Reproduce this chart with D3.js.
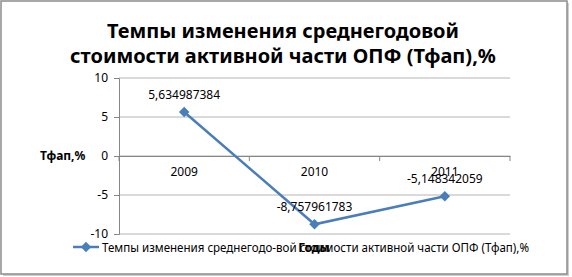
<!DOCTYPE html>
<html>
<head>
<meta charset="utf-8">
<script src="https://cdn.jsdelivr.net/npm/d3@7"></script>
<style>
  body { margin: 0; background: #fff; }
  text { font-family: "Noto Sans", "Open Sans", sans-serif; fill: #000; }
</style>
</head>
<body>
<div id="chart"></div>
<script>
// data
const years = ['2009', '2010', '2011'];
const values = [5.634987384, -8.757961783, -5.148342059];
const yTicks = [-10, -5, 0, 5, 10];
const titleLines = ['Темпы изменения среднегодовой', 'стоимости активной части ОПФ (Тфап),%'];
const seriesName = 'Темпы изменения среднегодо-вой стоимости активной части ОПФ (Тфап),%';
const yTitle = 'Тфап,%';
const xTitle = 'Годы';

const width = 572, height = 277;
const plot = { left: 119, right: 510, top: 78, bottom: 234 };
const blue = '#4a7ebb';

var svg = d3.select('#chart')
  .append('svg')
  .attr('width', width)
  .attr('height', height);

// chart frame with a little shadow
svg.append('rect')
  .attr('x', 3).attr('y', 3).attr('width', 566).attr('height', 273)
  .attr('fill', '#d0d0d0');
svg.append('rect')
  .attr('x', 1).attr('y', 1).attr('width', 566).attr('height', 273)
  .attr('fill', '#fff').attr('stroke', '#8c8c8c').attr('stroke-width', 1.5);

var x = d3.scaleBand().domain(years).range([plot.left, plot.right]);
var y = d3.scaleLinear().domain([-10, 10]).range([plot.bottom, plot.top]);

// gridlines
svg.append('g')
  .selectAll('line')
  .data(yTicks)
  .enter()
  .append('line')
  .attr('x1', plot.left).attr('x2', plot.right)
  .attr('y1', d => y(d)).attr('y2', d => y(d))
  .attr('stroke', '#b4b4b4').attr('stroke-width', 1);

// y axis (plain hyphen minus like the original)
var yAxis = svg.append('g')
  .attr('transform', 'translate(' + plot.left + ',0)')
  .call(d3.axisLeft(y).tickValues(yTicks).tickSize(5).tickPadding(6)
    .tickFormat(d => String(d)));
yAxis.select('.domain').attr('stroke', '#868686');
yAxis.selectAll('.tick line').attr('stroke', '#868686');
yAxis.selectAll('.tick text')
  .style('font-family', '"Noto Sans", sans-serif')
  .style('font-size', '12px');

// x axis crossing at zero, labels below it
var xAxis = svg.append('g')
  .attr('transform', 'translate(0,' + y(0) + ')')
  .call(d3.axisBottom(x).tickSize(0).tickPadding(11));
xAxis.select('.domain').attr('stroke', '#868686');
xAxis.selectAll('.tick text')
  .style('font-family', '"Noto Sans", sans-serif')
  .style('font-size', '12px');
// tick marks on category boundaries
svg.append('g')
  .selectAll('line')
  .data(x.domain().concat(['end']))
  .enter()
  .append('line')
  .attr('x1', (d, i) => plot.left + i * x.step())
  .attr('x2', (d, i) => plot.left + i * x.step())
  .attr('y1', y(0)).attr('y2', y(0) + 5)
  .attr('stroke', '#868686');

// series line
var line = d3.line()
  .x((d, i) => x(years[i]) + x.bandwidth() / 2)
  .y(d => y(d));

svg.append('path')
  .datum(values)
  .attr('d', line)
  .attr('fill', 'none')
  .attr('stroke', blue)
  .attr('stroke-width', 2.5);

var diamond = d3.symbol().type(d3.symbolDiamond2).size(70);
svg.append('g')
  .selectAll('path')
  .data(values)
  .enter()
  .append('path')
  .attr('d', diamond)
  .attr('transform', (d, i) => 'translate(' + (x(years[i]) + x.bandwidth() / 2) + ',' + y(d) + ')')
  .attr('fill', blue);

// data labels
svg.append('g')
  .selectAll('text')
  .data(values)
  .enter()
  .append('text')
  .attr('x', (d, i) => x(years[i]) + x.bandwidth() / 2)
  .attr('y', d => y(d) - 13)
  .attr('text-anchor', 'middle')
  .style('font-size', '12px')
  .text(d => d.toFixed(9).replace('.', ','));

// title
svg.append('g')
  .selectAll('text')
  .data(titleLines)
  .enter()
  .append('text')
  .attr('x', 283)
  .attr('y', (d, i) => 38 + i * 25)
  .attr('text-anchor', 'middle')
  .style('font-size', '20px')
  .style('font-weight', 'bold')
  .text(d => d);

// y axis title
svg.append('text')
  .attr('x', 40).attr('y', 160)
  .style('font-size', '12px')
  .style('font-weight', 'bold')
  .text(yTitle);

// legend
svg.append('line')
  .attr('x1', 73).attr('x2', 99).attr('y1', 247).attr('y2', 247)
  .attr('stroke', blue).attr('stroke-width', 2.5);
svg.append('path')
  .attr('d', diamond)
  .attr('transform', 'translate(86,247)')
  .attr('fill', blue);
svg.append('text')
  .attr('x', 102).attr('y', 251.5)
  .attr('textLength', 427)
  .attr('lengthAdjust', 'spacingAndGlyphs')
  .style('font-size', '12px')
  .text(seriesName);

// x axis title (overlaps the legend, as in the original)
svg.append('text')
  .attr('x', 314).attr('y', 251.5)
  .attr('text-anchor', 'middle')
  .style('font-size', '12px')
  .style('font-weight', 'bold')
  .text(xTitle);
</script>
</body>
</html>
